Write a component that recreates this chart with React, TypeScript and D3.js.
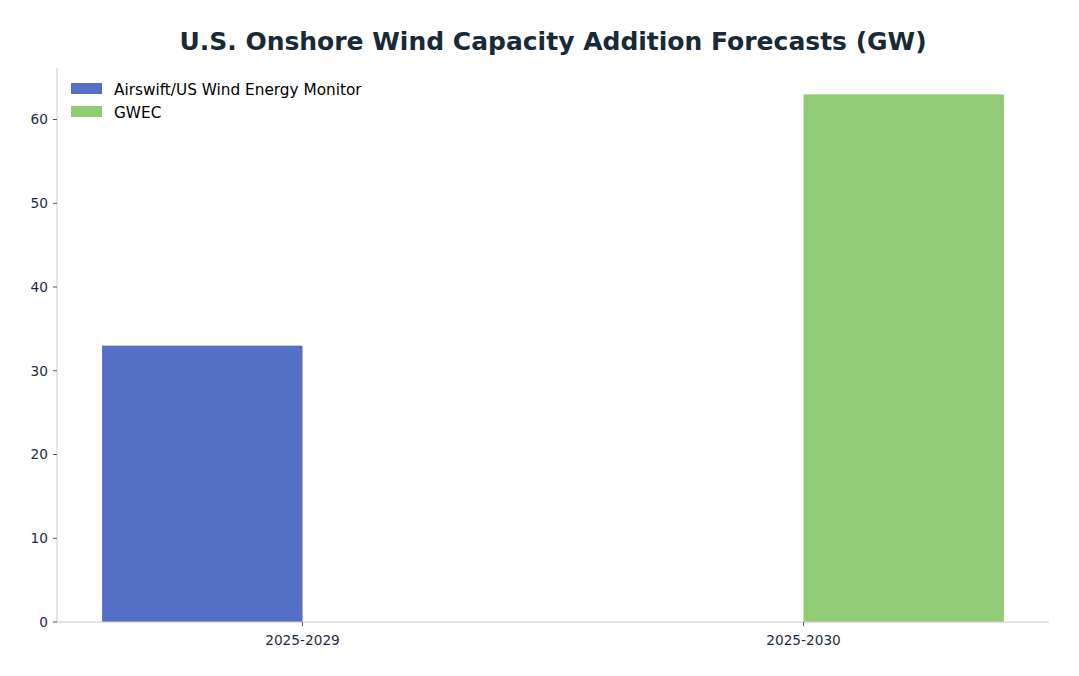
import React from "react";
import * as d3 from "d3";

const periods = ["2025-2029", "2025-2030"];
const seriesNames = ["Airswift/US Wind Energy Monitor", "GWEC"];
const seriesColors = ["#5470c6", "#91cc75"];
// value per series per period (null = no bar)
const airswiftValues: (number | null)[] = [33, null];
const gwecValues: (number | null)[] = [null, 63];
const yTicks = [0, 10, 20, 30, 40, 50, 60];

const W = 1079;
const H = 676;
const margin = { top: 68, right: 30, bottom: 54, left: 57 };

const App: React.FC = () => {
  const innerW = W - margin.left - margin.right;
  const innerH = H - margin.top - margin.bottom;
  const barW = 0.4;

  const x = d3
    .scaleLinear()
    .domain([-0.49, periods.length - 1 + 0.49])
    .range([0, innerW]);
  const y = d3.scaleLinear().domain([0, 63 * 1.05]).range([innerH, 0]);

  const series = [airswiftValues, gwecValues];
  const font = "'DejaVu Sans', sans-serif";
  const textColor = "#1f2d3d";

  return (
    <svg width={W} height={H} style={{ display: "block", margin: -8 }} fontFamily={font}>
      <rect width={W} height={H} fill="#fff" />
      <text
        x={553}
        y={50}
        textAnchor="middle"
        fontSize={25}
        fontWeight="bold"
        fill="#182a38"
      >
        U.S. Onshore Wind Capacity Addition Forecasts (GW)
      </text>
      <g transform={`translate(${margin.left},${margin.top})`}>
        {series.map((vals, si) =>
          vals.map((v, pi) =>
            v == null ? null : (
              <rect
                key={`${si}-${pi}`}
                x={x(pi + (si === 0 ? -barW : 0))}
                y={y(v)}
                width={x(barW) - x(0)}
                height={innerH - y(v)}
                fill={seriesColors[si]}
              />
            ),
          ),
        )}
        <line x1={0} x2={0} y1={0} y2={innerH} stroke="#cccccc" strokeWidth={1} />
        <line x1={0} x2={innerW} y1={innerH} y2={innerH} stroke="#cccccc" strokeWidth={1} />
        {yTicks.map((t) => (
          <g key={t} transform={`translate(0,${y(t)})`}>
            <line x1={-4} x2={0} stroke={textColor} strokeWidth={0.8} />
            <text x={-9} dy="0.35em" textAnchor="end" fontSize={13.7} fill={textColor}>
              {t}
            </text>
          </g>
        ))}
        {periods.map((p, i) => (
          <g key={p} transform={`translate(${x(i)},${innerH})`}>
            <line y1={0} y2={4} stroke={textColor} strokeWidth={0.8} />
            <text y={23} textAnchor="middle" fontSize={13.7} fill={textColor}>
              {p}
            </text>
          </g>
        ))}
        {seriesNames.map((n, i) => (
          <g key={n} transform={`translate(14,${15 + i * 23})`}>
            <rect width={31} height={11} fill={seriesColors[i]} />
            <text x={43} y={12} fontSize={15.3} fill="#000">
              {n}
            </text>
          </g>
        ))}
      </g>
    </svg>
  );
};

export default App;
